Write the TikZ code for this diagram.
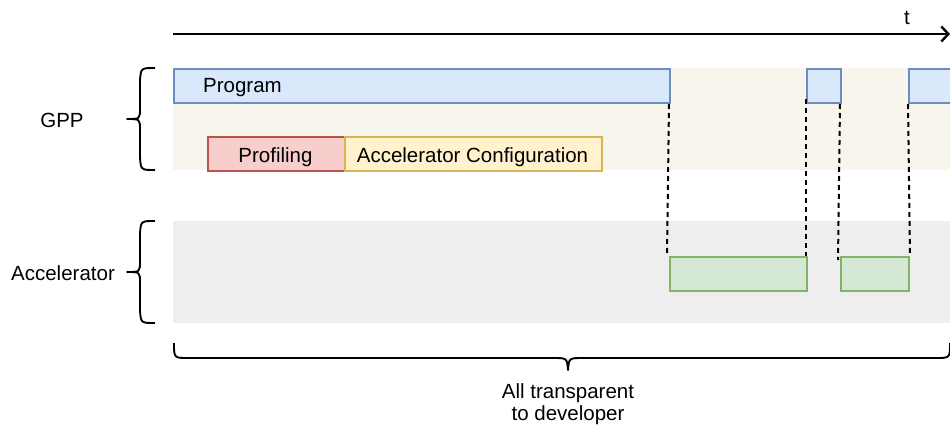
\documentclass[tikz,border=0pt]{standalone}
\usepackage{fontspec}
\setmainfont{Liberation Sans}
\usetikzlibrary{arrows.meta}
\definecolor{gppband}{HTML}{F8F5EC}
\definecolor{accband}{HTML}{EEEEEE}
\definecolor{blueF}{HTML}{DAE8FC}
\definecolor{blueD}{HTML}{6C8EBF}
\definecolor{redF}{HTML}{F8CECC}
\definecolor{redD}{HTML}{B85450}
\definecolor{yelF}{HTML}{FFF2CC}
\definecolor{yelD}{HTML}{D6B656}
\definecolor{grnF}{HTML}{D5E8D4}
\definecolor{grnD}{HTML}{82B366}
\tikzset{
  lbl/.style={font=\fontsize{20.5}{22}\selectfont, text=black, inner sep=0pt, anchor=base},
  prog/.style={fill=blueF, draw=blueD, line width=2pt},
  prof/.style={fill=redF, draw=redD, line width=2pt},
  conf/.style={fill=yelF, draw=yelD, line width=2pt},
  accel/.style={fill=grnF, draw=grnD, line width=2pt},
  sync/.style={draw=black, line width=2pt, dash pattern=on 5pt off 4pt},
  brace/.style={draw=black, line width=1.9pt, line join=round},
}
\begin{document}
\begin{tikzpicture}[x=1pt, y=-1pt]
\useasboundingbox (0,0) rectangle (950,425);
\clip (0,0) rectangle (950,425);

% processor lanes
\fill[gppband] (173,68) rectangle (960,170);
\fill[accband] (173,221) rectangle (960,323);

% time axis
\coordinate (t0) at (173,34);
\coordinate (t1) at (950,34);
\draw[line width=2.2pt, -{Straight Barb[length=7pt,width=15pt,line width=2.4pt]}] (t0) -- (t1);
\node[lbl] (tlab) at (907,25) {t};

% GPP activity
\node[prog, minimum width=496pt, minimum height=34pt, anchor=north west, inner sep=0pt] (p1) at (173,68) {};
\node[lbl, anchor=base west] (p1lab) at (203,93) {Program};
\node[prog, minimum width=34pt, minimum height=34pt, anchor=north west, inner sep=0pt] (p2) at (806,68) {};
\node[prog, minimum width=60pt, minimum height=34pt, anchor=north west, inner sep=0pt] (p3) at (908,68) {};
\node[prof, minimum width=137pt, minimum height=34pt, anchor=north west, inner sep=0pt] (pf) at (207,136) {};
\node[lbl] (pflab) at (275.5,162) {Profiling};
\node[conf, minimum width=257pt, minimum height=34pt, anchor=north west, inner sep=0pt] (cf) at (344,136) {};
\node[lbl] (cflab) at (472.5,162) {Accelerator Configuration};

% accelerator activity
\node[accel, minimum width=137pt, minimum height=34pt, anchor=north west, inner sep=0pt] (a1) at (669,256) {};
\node[accel, minimum width=68pt, minimum height=34pt, anchor=north west, inner sep=0pt] (a2) at (840,256) {};

% hand-over lines
\draw[sync] ([xshift=-2pt]p1.south east) -- ([xshift=-2pt]a1.north west);
\draw[sync] ([xshift=-2pt,yshift=5pt]a1.north east |- p1.south) -- ([xshift=-2pt]a1.north east);
\draw[sync] ([xshift=-2pt]p2.south east) -- ([xshift=-2pt,yshift=-4pt]a2.north west);
\draw[sync] (p3.south west) -- (a2.north east);

% lane braces and labels
\draw[brace] (155,68) .. controls (141,68) .. (140,80) -- (140,108)
  .. controls (140,119) .. (127,119) .. controls (140,119) .. (140,130)
  -- (140,158) .. controls (141,170) .. (155,170);
\node[lbl] (gpp) at (62,128) {GPP};
\draw[brace] (155,221) .. controls (141,221) .. (140,233) -- (140,261)
  .. controls (140,272) .. (127,272) .. controls (140,272) .. (140,283)
  -- (140,311) .. controls (141,323) .. (155,323);
\node[lbl] (acc) at (63,280) {Accelerator};

% overall brace
\draw[brace] (174,343) .. controls (174,358) .. (188,358) -- (553,358)
  .. controls (567,358) .. (568,370) .. controls (569,358) .. (583,358)
  -- (936,358) .. controls (950,358) .. (950,343);
\node[lbl] (all1) at (568,398) {All transparent};
\node[lbl] (all2) at (568,420) {to developer};
\end{tikzpicture}
\end{document}
